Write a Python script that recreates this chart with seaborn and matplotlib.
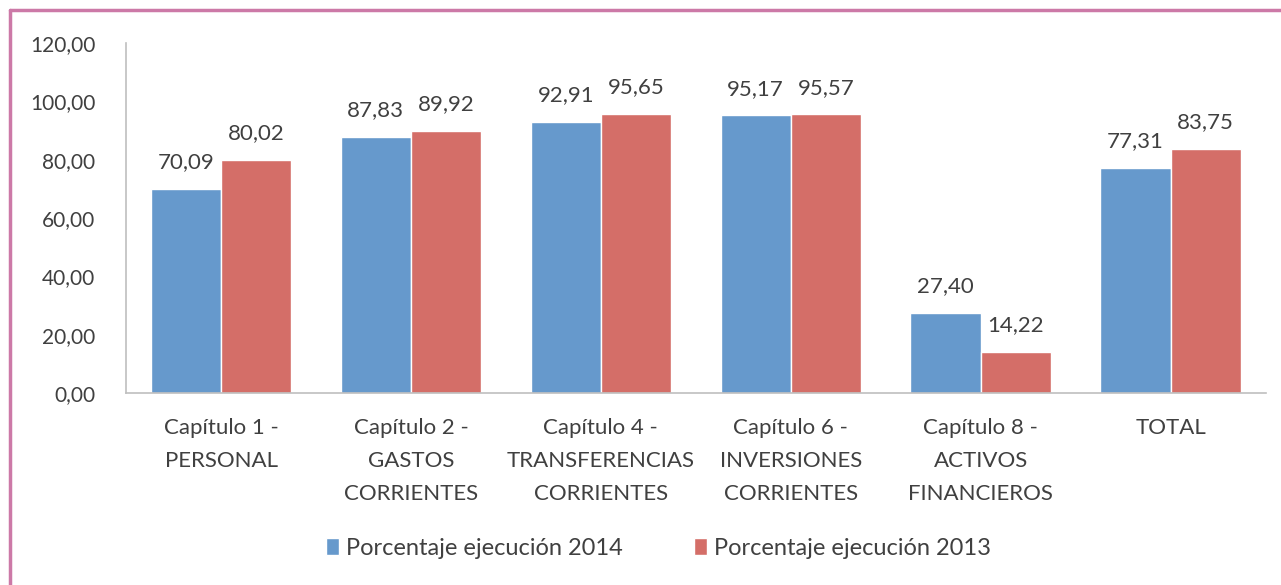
import pandas as pd
import matplotlib.pyplot as plt
import seaborn as sns
from matplotlib.lines import Line2D

categorias = ['Capítulo 1 -\nPERSONAL', 'Capítulo 2 -\nGASTOS\nCORRIENTES',
              'Capítulo 4 -\nTRANSFERENCIAS\nCORRIENTES', 'Capítulo 6 -\nINVERSIONES\nCORRIENTES',
              'Capítulo 8 -\nACTIVOS\nFINANCIEROS', 'TOTAL']
ejec_2014 = [70.09, 87.83, 92.91, 95.17, 27.40, 77.31]
ejec_2013 = [80.02, 89.92, 95.65, 95.57, 14.22, 83.75]
series = ['Porcentaje ejecución 2014', 'Porcentaje ejecución 2013']
colores = ['#6699CC', '#D46E68']
yticks = [0, 20, 40, 60, 80, 100, 120]

df = pd.DataFrame({
    'categoria': categorias * 2,
    'valor': ejec_2014 + ejec_2013,
    'serie': [series[0]] * len(categorias) + [series[1]] * len(categorias),
})

sns.set_theme(style="white")
plt.rcParams['font.family'] = ['Lato', 'DejaVu Sans']

fig = plt.figure(figsize=(12.81, 5.85), dpi=100)
ax = fig.add_axes([0.0984, 0.328, 0.8896, 0.5985])

sns.barplot(data=df, x='categoria', y='valor', hue='serie', palette=colores,
            width=0.74, saturation=1, ax=ax, legend=True)

for cont in ax.containers:
    ax.bar_label(cont, labels=[f'{v:.2f}'.replace('.', ',') for v in cont.datavalues],
                 padding=12, fontsize=16, color='#404040')

ax.set_ylim(0, 120)
ax.set_yticks(yticks)
ax.set_yticklabels([f'{v:.2f}'.replace('.', ',') for v in yticks], fontsize=15, color='#404040')
ax.tick_params(axis='x', labelcolor='#404040', pad=18, length=0)
for t in ax.get_xticklabels():
    t.set_fontsize(16)
    t.set_linespacing(1.8)
ax.tick_params(axis='y', pad=22, length=0)
ax.set_xlabel('')
ax.set_ylabel('')
ax.set_xlim(-0.5, 5.5)

for s in ['top', 'right']:
    ax.spines[s].set_visible(False)
for s in ['left', 'bottom']:
    ax.spines[s].set_color('#BFBFBF')
    ax.spines[s].set_linewidth(1.2)

ax.legend(loc='center', bbox_to_anchor=(0.467, -0.443), ncol=2, frameon=False,
          fontsize=17, handlelength=0.55, handleheight=0.75, columnspacing=3.0,
          handletextpad=0.3, labelcolor='#404040')

# borde del gráfico
borde = '#CC79A7'
fig.add_artist(Line2D([10 / 1281, 1.0], [1 - 10 / 585, 1 - 10 / 585], transform=fig.transFigure,
                      color=borde, linewidth=2.5))
fig.add_artist(Line2D([10 / 1281, 10 / 1281], [0, 1 - 10 / 585], transform=fig.transFigure,
                      color=borde, linewidth=2.5))

fig.savefig('out.png', dpi=100)
